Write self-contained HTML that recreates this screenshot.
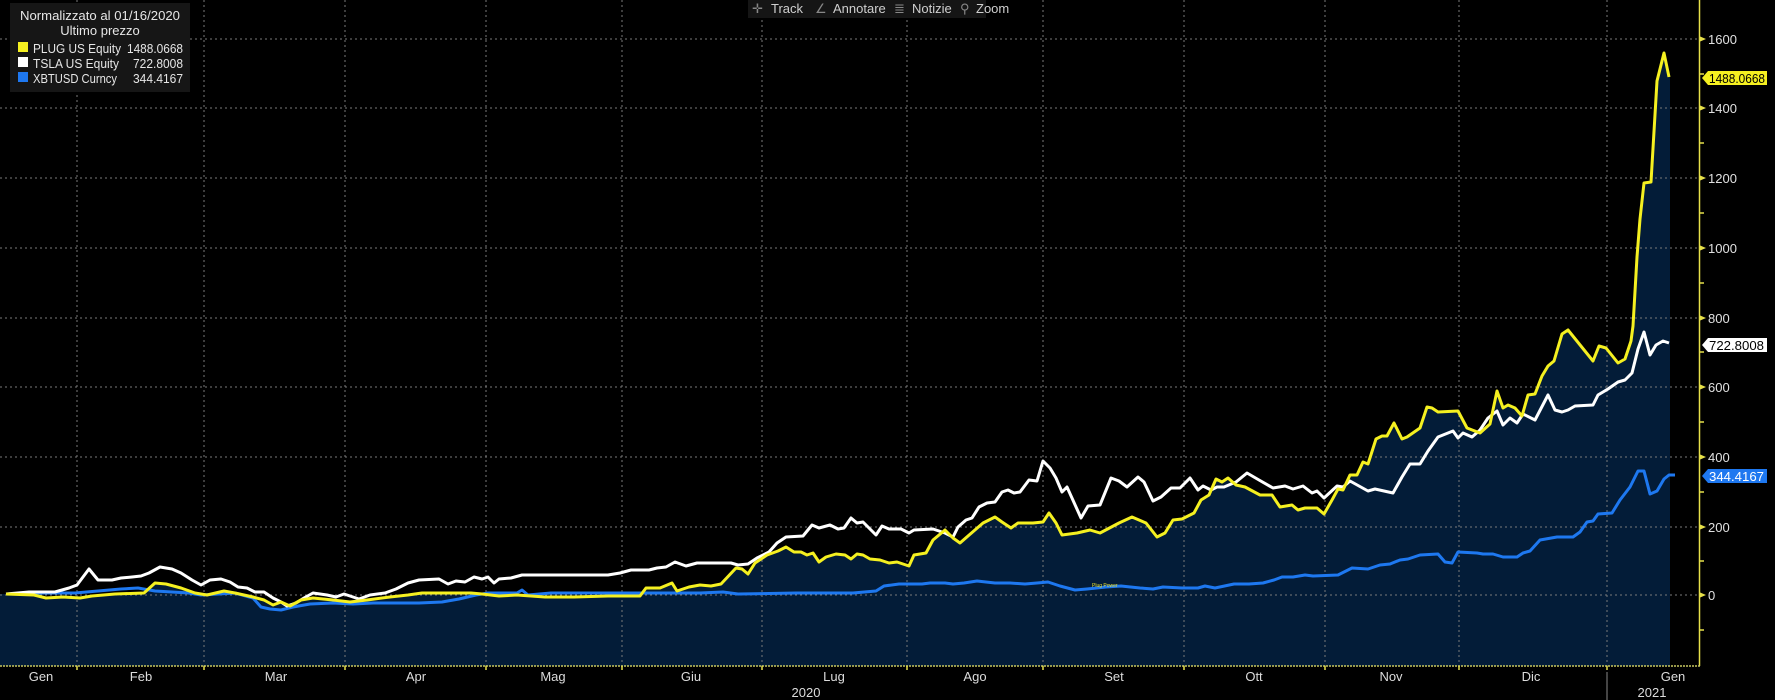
<!DOCTYPE html>
<html><head><meta charset="utf-8"><style>
html,body{margin:0;padding:0;background:#000;}
svg{display:block;font-family:"Liberation Sans",sans-serif;}
</style></head><body>
<svg width="1775" height="700" viewBox="0 0 1775 700" xmlns="http://www.w3.org/2000/svg">
<rect width="1775" height="700" fill="#000"/>
<polygon fill="#031c38" points="0,666 0,594 6,594 34,595 46,598 63,597 80,598 92,596 115,594 144,593 155,583 166,584 181,588 195,593 207,595 224,591 235,593 253,597 264,600 273,605 281,602 290,606 301,600 313,598 333,600 350,602 367,600 390,597 408,595 422,593 454,593 471,593 482,594 499,596 517,595 545,597 574,597 608,596 640,596 646,588 660,588 672,583 677,591 689,587 700,585 711,586 721,584 736,568 742,569 748,574 755,563 767,555 778,551 786,547 794,552 801,552 807,555 813,553 819,562 826,557 836,554 845,555 851,559 857,554 863,555 870,559 880,560 889,563 897,562 909,566 914,555 926,553 933,540 945,530 953,538 960,543 968,536 983,523 995,517 1002,522 1011,528 1018,523 1033,523 1043,522 1049,513 1056,523 1062,535 1077,533 1090,530 1100,533 1119,523 1132,517 1146,523 1157,537 1165,533 1173,520 1182,519 1194,513 1201,500 1209,495 1216,479 1222,482 1228,478 1236,485 1245,487 1260,495 1272,495 1280,507 1292,505 1298,510 1305,508 1317,508 1324,514 1332,500 1338,489 1343,490 1350,475 1357,475 1363,462 1368,464 1376,439 1382,436 1387,436 1394,423 1402,439 1407,437 1420,428 1427,407 1432,408 1438,412 1458,411 1467,428 1480,433 1490,424 1497,391 1503,408 1508,405 1515,408 1522,416 1528,395 1535,394 1542,376 1548,366 1554,361 1562,334 1568,330 1593,361 1599,346 1606,348 1618,363 1625,359 1631,341 1633,326 1637,257 1640,219 1644,183 1651,182 1657,81 1664,53 1670,77 1670,666"/>
<g stroke="#7a7a7a" stroke-width="1" stroke-dasharray="2,3" fill="none">
<line x1="0" y1="39" x2="1699" y2="39"/><line x1="0" y1="108" x2="1699" y2="108"/><line x1="0" y1="178" x2="1699" y2="178"/><line x1="0" y1="248" x2="1699" y2="248"/><line x1="0" y1="318" x2="1699" y2="318"/><line x1="0" y1="387" x2="1699" y2="387"/><line x1="0" y1="457" x2="1699" y2="457"/><line x1="0" y1="527" x2="1699" y2="527"/><line x1="0" y1="595" x2="1699" y2="595"/>
<line x1="77" y1="0" x2="77" y2="666"/><line x1="204" y1="0" x2="204" y2="666"/><line x1="345" y1="0" x2="345" y2="666"/><line x1="486" y1="0" x2="486" y2="666"/><line x1="622" y1="0" x2="622" y2="666"/><line x1="762" y1="0" x2="762" y2="666"/><line x1="907" y1="0" x2="907" y2="666"/><line x1="1043" y1="0" x2="1043" y2="666"/><line x1="1184" y1="0" x2="1184" y2="666"/><line x1="1325" y1="0" x2="1325" y2="666"/><line x1="1459" y1="0" x2="1459" y2="666"/><line x1="1607" y1="0" x2="1607" y2="666"/>
</g>
<g fill="none" stroke-width="3" stroke-linejoin="round">
<polyline stroke="#1e78f0" points="6,594 46,593 75,593 98,591 121,589 138,588 155,591 172,592 189,593 201,595 218,594 235,593 253,598 261,607 270,609 281,610 293,607 310,604 333,603 353,604 373,603 402,603 419,603 442,602 459,599 476,595 488,593 517,593 522,590 528,595 551,593 574,593 620,593 689,593 700,593 723,592 738,594 796,593 853,593 876,591 884,586 899,584 922,584 930,583 945,583 953,584 964,583 977,581 995,583 1010,583 1025,584 1037,583 1048,582 1060,586 1075,590 1087,589 1106,587 1121,586 1140,588 1153,589 1163,587 1182,588 1198,588 1205,586 1215,588 1234,584 1249,584 1263,583 1274,580 1282,577 1293,577 1305,575 1313,576 1338,575 1352,568 1368,569 1380,565 1390,564 1400,560 1408,559 1420,555 1438,554 1445,562 1452,563 1458,552 1477,553 1483,554 1493,554 1503,557 1517,557 1523,553 1530,551 1540,540 1557,537 1573,537 1580,532 1587,522 1593,521 1598,514 1612,513 1620,500 1630,487 1638,471 1644,471 1650,494 1657,491 1664,479 1669,475 1675,475"/>
<polyline stroke="#ffffff" points="6,594 29,592 55,592 69,588 77,585 89,569 98,580 112,580 121,578 132,577 141,576 149,573 160,567 172,569 181,573 192,580 201,585 210,580 221,579 230,582 238,587 247,588 255,592 264,592 273,598 281,602 287,606 296,603 304,598 313,593 327,595 336,597 344,594 359,599 370,595 385,593 396,589 408,583 419,580 439,579 448,584 456,581 465,582 474,577 482,579 488,577 494,583 499,579 511,578 522,575 545,575 574,575 608,575 620,573 631,570 649,570 657,568 666,567 675,562 686,566 697,563 723,563 731,563 738,565 748,564 757,558 769,552 777,543 786,537 803,536 812,525 819,528 830,525 838,529 844,528 851,518 857,523 863,522 868,527 876,535 882,526 889,529 901,529 909,533 914,530 933,529 945,533 953,537 958,527 966,520 972,518 979,507 987,503 995,502 1002,492 1008,490 1014,493 1020,492 1029,480 1037,481 1043,461 1050,468 1056,478 1062,492 1067,487 1081,518 1088,506 1100,505 1111,478 1119,481 1127,487 1138,477 1144,482 1153,501 1161,497 1171,488 1180,488 1190,478 1198,490 1203,486 1211,490 1217,487 1224,487 1236,482 1247,473 1259,480 1273,488 1285,486 1293,489 1303,486 1312,493 1317,491 1324,498 1337,486 1343,487 1350,481 1368,491 1375,489 1393,493 1402,477 1410,464 1420,464 1428,451 1438,437 1453,431 1458,438 1463,433 1472,437 1480,430 1488,418 1497,411 1503,425 1510,418 1517,423 1523,414 1535,420 1548,395 1555,410 1562,412 1568,410 1575,406 1593,405 1598,395 1608,389 1618,382 1625,380 1632,373 1638,349 1644,332 1650,355 1656,345 1663,341 1669,343"/>
<polyline stroke="#f5f020" points="6,594 34,595 46,598 63,597 80,598 92,596 115,594 144,593 155,583 166,584 181,588 195,593 207,595 224,591 235,593 253,597 264,600 273,605 281,602 290,606 301,600 313,598 333,600 350,602 367,600 390,597 408,595 422,593 454,593 471,593 482,594 499,596 517,595 545,597 574,597 608,596 640,596 646,588 660,588 672,583 677,591 689,587 700,585 711,586 721,584 736,568 742,569 748,574 755,563 767,555 778,551 786,547 794,552 801,552 807,555 813,553 819,562 826,557 836,554 845,555 851,559 857,554 863,555 870,559 880,560 889,563 897,562 909,566 914,555 926,553 933,540 945,530 953,538 960,543 968,536 983,523 995,517 1002,522 1011,528 1018,523 1033,523 1043,522 1049,513 1056,523 1062,535 1077,533 1090,530 1100,533 1119,523 1132,517 1146,523 1157,537 1165,533 1173,520 1182,519 1194,513 1201,500 1209,495 1216,479 1222,482 1228,478 1236,485 1245,487 1260,495 1272,495 1280,507 1292,505 1298,510 1305,508 1317,508 1324,514 1332,500 1338,489 1343,490 1350,475 1357,475 1363,462 1368,464 1376,439 1382,436 1387,436 1394,423 1402,439 1407,437 1420,428 1427,407 1432,408 1438,412 1458,411 1467,428 1480,433 1490,424 1497,391 1503,408 1508,405 1515,408 1522,416 1528,395 1535,394 1542,376 1548,366 1554,361 1562,334 1568,330 1593,361 1599,346 1606,348 1618,363 1625,359 1631,341 1633,326 1637,257 1640,219 1644,183 1651,182 1657,81 1664,53 1669,77"/>
</g>
<text x="1092" y="587" font-size="5" fill="#e8e030">Plug Power</text>
<line x1="1699.5" y1="0" x2="1699.5" y2="666" stroke="#e6e04a" stroke-width="1.5"/>
<line x1="0" y1="666" x2="1700" y2="666" stroke="#c8c860" stroke-width="1.5" stroke-dasharray="2,1"/>
<g stroke="#e6e04a" stroke-width="1.5">
<line x1="1699" y1="74" x2="1704" y2="74"/><line x1="1699" y1="143" x2="1704" y2="143"/><line x1="1699" y1="213" x2="1704" y2="213"/><line x1="1699" y1="283" x2="1704" y2="283"/><line x1="1699" y1="352" x2="1704" y2="352"/><line x1="1699" y1="422" x2="1704" y2="422"/><line x1="1699" y1="492" x2="1704" y2="492"/><line x1="1699" y1="561" x2="1704" y2="561"/><line x1="1699" y1="630" x2="1704" y2="630"/>
<line x1="77" y1="666" x2="77" y2="670"/><line x1="204" y1="666" x2="204" y2="670"/><line x1="345" y1="666" x2="345" y2="670"/><line x1="486" y1="666" x2="486" y2="670"/><line x1="622" y1="666" x2="622" y2="670"/><line x1="762" y1="666" x2="762" y2="670"/><line x1="907" y1="666" x2="907" y2="670"/><line x1="1043" y1="666" x2="1043" y2="670"/><line x1="1184" y1="666" x2="1184" y2="670"/><line x1="1325" y1="666" x2="1325" y2="670"/><line x1="1459" y1="666" x2="1459" y2="670"/><line x1="1607" y1="666" x2="1607" y2="670"/>
</g>
<g fill="#e6e04a">
<polygon points="1699,36 1706,39 1699,42"/><polygon points="1699,105 1706,108 1699,111"/><polygon points="1699,175 1706,178 1699,181"/><polygon points="1699,245 1706,248 1699,251"/><polygon points="1699,315 1706,318 1699,321"/><polygon points="1699,384 1706,387 1699,390"/><polygon points="1699,454 1706,457 1699,460"/><polygon points="1699,524 1706,527 1699,530"/><polygon points="1699,592 1706,595 1699,598"/>
</g>
<g fill="#e0e0e0" font-size="13">
<text x="1708" y="44">1600</text><text x="1708" y="113">1400</text><text x="1708" y="183">1200</text><text x="1708" y="253">1000</text><text x="1708" y="323">800</text><text x="1708" y="392">600</text><text x="1708" y="462">400</text><text x="1708" y="532">200</text><text x="1708" y="600">0</text>
</g>
<polygon points="1702,78 1708,71 1767,71 1767,85 1708,85" fill="#f5f020"/>
<text x="1709" y="83" font-size="13" fill="#000" textLength="56" lengthAdjust="spacingAndGlyphs">1488.0668</text>
<polygon points="1702,345 1708,338 1767,338 1767,352 1708,352" fill="#ffffff"/>
<text x="1709" y="350" font-size="13" fill="#000" textLength="55" lengthAdjust="spacingAndGlyphs">722.8008</text>
<polygon points="1702,476 1708,469 1767,469 1767,483 1708,483" fill="#1e78f0"/>
<text x="1709" y="481" font-size="13" fill="#fff" textLength="55" lengthAdjust="spacingAndGlyphs">344.4167</text>
<g fill="#dcdcdc" font-size="13" text-anchor="middle">
<text x="41" y="681">Gen</text><text x="141" y="681">Feb</text><text x="276" y="681">Mar</text><text x="416" y="681">Apr</text><text x="553" y="681">Mag</text><text x="691" y="681">Giu</text><text x="834" y="681">Lug</text><text x="975" y="681">Ago</text><text x="1114" y="681">Set</text><text x="1254" y="681">Ott</text><text x="1391" y="681">Nov</text><text x="1531" y="681">Dic</text><text x="1673" y="681">Gen</text>
<text x="806" y="697">2020</text><text x="1652" y="697">2021</text>
</g>
<line x1="1607" y1="672" x2="1607" y2="700" stroke="#888" stroke-width="1"/>
<rect x="10" y="3" width="180" height="89" fill="#161616"/>
<g fill="#e6e6e6" font-size="13">
<text x="100" y="20" text-anchor="middle" textLength="160" lengthAdjust="spacingAndGlyphs">Normalizzato al 01/16/2020</text>
<text x="100" y="35" text-anchor="middle">Ultimo prezzo</text>
<rect x="18" y="42" width="10" height="10" fill="#f5f020"/>
<text x="33" y="53" textLength="88" lengthAdjust="spacingAndGlyphs">PLUG US Equity</text><text x="127" y="53" textLength="56" lengthAdjust="spacingAndGlyphs">1488.0668</text>
<rect x="18" y="57" width="10" height="10" fill="#ffffff"/>
<text x="33" y="68" textLength="86" lengthAdjust="spacingAndGlyphs">TSLA US Equity</text><text x="133" y="68" textLength="50" lengthAdjust="spacingAndGlyphs">722.8008</text>
<rect x="18" y="72" width="10" height="10" fill="#1e78f0"/>
<text x="33" y="83" textLength="84" lengthAdjust="spacingAndGlyphs">XBTUSD Curncy</text><text x="133" y="83" textLength="50" lengthAdjust="spacingAndGlyphs">344.4167</text>
</g>
<rect x="748" y="0" width="238" height="18" fill="#151515"/>
<g fill="#cfcfcf" font-size="13">
<text x="752" y="13" fill="#888">✛</text><text x="771" y="13">Track</text>
<text x="815" y="13" fill="#888">∠</text><text x="833" y="13">Annotare</text>
<text x="894" y="13" fill="#888">≣</text><text x="912" y="13">Notizie</text>
<text x="960" y="13" fill="#888">⚲</text><text x="976" y="13">Zoom</text>
</g>
</svg>
</body></html>
